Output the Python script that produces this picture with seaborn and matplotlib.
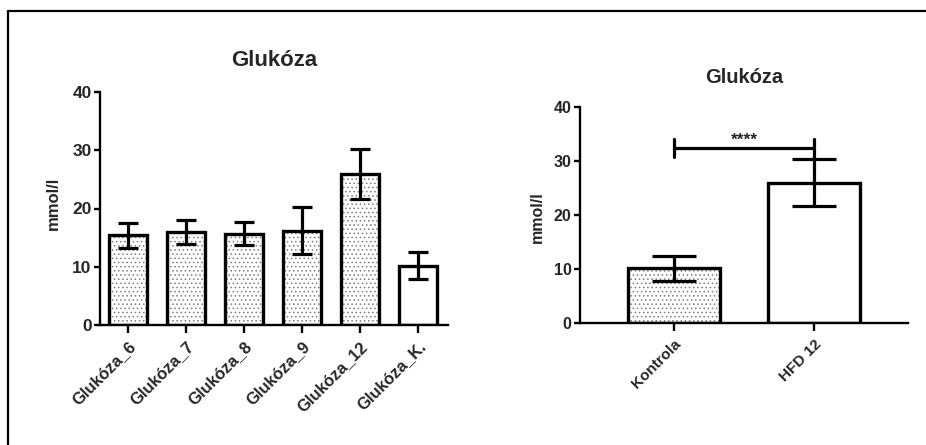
import matplotlib
matplotlib.use("Agg")
import matplotlib.pyplot as plt
from matplotlib.patches import Rectangle
from matplotlib.lines import Line2D
import seaborn as sns
import pandas as pd
import numpy as np

# ---- data ----
left_categories = ["Glukóza_6", "Glukóza_7", "Glukóza_8", "Glukóza_9", "Glukóza_12", "Glukóza_K."]
left_means = [15.4, 16.0, 15.7, 16.2, 25.9, 10.2]
left_errors = [2.1, 2.1, 1.9, 4.0, 4.3, 2.3]
left_hatched = [True, True, True, True, True, False]

right_categories = ["Kontrola", "HFD 12"]
right_means = [10.2, 26.0]
right_errors = [2.3, 4.3]
right_hatched = [True, False]

title_text = "Glukóza"
ylabel_text = "mmol/l"
yticks = [0, 10, 20, 30, 40]
sig_text = "****"
sig_level = 32.4

sns.set_theme(style="ticks")
plt.rcParams['font.family'] = ['Liberation Sans', 'DejaVu Sans']
plt.rcParams['hatch.linewidth'] = 0.6

fig = plt.figure(figsize=(9.26, 4.45), dpi=100)
fig.patch.set_facecolor("white")

ax1 = fig.add_axes([100/926, (445-325)/445, 348/926, 233/445])
ax2 = fig.add_axes([580/926, (445-323.3)/445, 328/926, 216.6/445])


def draw(ax, cats, means, errs, hatched, width, capsize, tick_fs, xt_fs, title_fs, lab_fs, tpad):
    df = pd.DataFrame({"cat": cats, "val": means})
    sns.barplot(data=df, x="cat", y="val", ax=ax, color="white", saturation=1,
                width=width, edgecolor="none", linewidth=0, zorder=1)
    bars = list(ax.patches)
    for p, h in zip(bars, hatched):
        x0, y0 = p.get_xy()
        w, hgt = p.get_width(), p.get_height()
        if h:
            ax.add_patch(Rectangle((x0, y0), w, hgt, facecolor="white", edgecolor="#7d7d7d",
                                   hatch="....", linewidth=0, zorder=2))
        ax.add_patch(Rectangle((x0, y0), w, hgt, fill=False, edgecolor="black",
                               linewidth=2.4, zorder=3, joinstyle="miter"))
    xs = np.arange(len(cats))
    ax.errorbar(xs, means, yerr=errs, fmt="none", ecolor="black", elinewidth=2.3,
                capsize=capsize, capthick=2.3, zorder=4)
    ax.set_ylim(0, 40)
    ax.set_yticks(yticks)
    ax.set_xlabel("")
    ax.set_ylabel(ylabel_text, fontsize=lab_fs, fontweight="bold")
    ax.set_title(title_text, fontsize=title_fs, fontweight="bold", pad=tpad)
    for s in ["top", "right"]:
        ax.spines[s].set_visible(False)
    for s in ["left", "bottom"]:
        ax.spines[s].set_linewidth(1.7)
        ax.spines[s].set_color("black")
    ax.tick_params(axis="y", length=4.5, width=1.7, labelsize=tick_fs, color="black", pad=1.5)
    ax.tick_params(axis="x", length=6, width=1.7, color="black", pad=4)
    for lab in ax.get_yticklabels():
        lab.set_fontweight("bold")
    ax.set_xticks(xs)
    ax.set_xticklabels(cats, rotation=45, ha="right", rotation_mode="anchor",
                       fontsize=xt_fs, fontweight="bold")
    ax.set_facecolor("white")


draw(ax1, left_categories, left_means, left_errors, left_hatched,
     0.65, 7.2, 12.5, 12, 16, 12, 19)
ax1.set_xlim(-0.48, 5.52)
ax1.yaxis.set_label_coords(-0.112, 0.52)

draw(ax2, right_categories, right_means, right_errors, right_hatched,
     0.66, 16, 11.5, 11, 14.5, 11.5, 17)
ax2.set_xlim(-0.67, 1.67)
ax2.yaxis.set_label_coords(-0.107, 0.49)

# significance bracket
ax2.plot([0, 1], [sig_level, sig_level], color="black", lw=2.3, zorder=5)
ax2.plot([0, 0], [sig_level - 1.6, sig_level + 1.6], color="black", lw=2.3, zorder=5)
ax2.plot([1, 1], [sig_level - 1.6, sig_level + 1.6], color="black", lw=2.3, zorder=5)
ax2.text(0.5, sig_level + 0.5, sig_text, ha="center", va="baseline",
         fontsize=12.5, fontweight="bold")

# outer frame (top and left edges visible)
fig.add_artist(Line2D([8/926, 1.0], [1 - 11/445, 1 - 11/445], transform=fig.transFigure,
                      color="black", lw=1.6))
fig.add_artist(Line2D([8/926, 8/926], [0.0, 1 - 11/445], transform=fig.transFigure,
                      color="black", lw=1.6))

fig.savefig("out.png", dpi=100, facecolor="white")
